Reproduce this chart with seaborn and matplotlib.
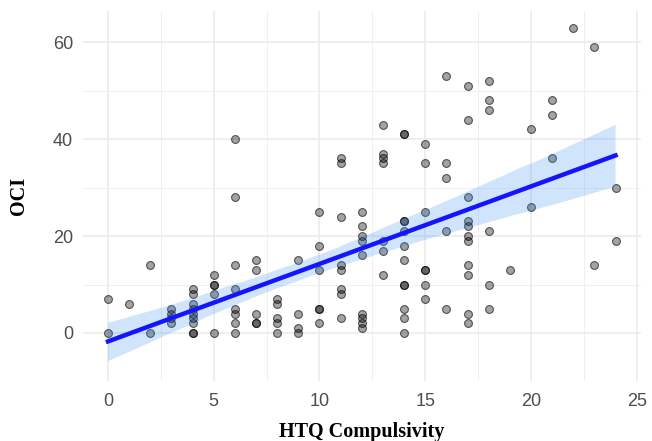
import matplotlib
matplotlib.use("Agg")
import matplotlib.pyplot as plt
import numpy as np
import pandas as pd
import seaborn as sns
from matplotlib.ticker import MultipleLocator

# HTQ Compulsivity score levels and the OCI scores observed at each level
htq_levels = [0, 1, 2, 3, 4, 5, 6, 7, 8, 9, 10, 11, 12,
              13, 14, 15, 16, 17, 18, 19, 20, 21, 22, 23, 24]
oci_at_level = [
    [7, 0],
    [6],
    [14, 0],
    [5, 4, 3, 2],
    [9, 8, 6, 5, 4, 3, 2, 0, 0],
    [12, 10, 10, 8, 0],
    [40, 28, 14, 9, 5, 4, 2, 0],
    [15, 13, 4, 2, 2],
    [7, 6, 3, 2, 0],
    [15, 4, 1, 0],
    [25, 18, 13, 5, 5, 2],
    [36, 35, 24, 14, 13, 9, 8, 3],
    [25, 22, 20, 19, 16, 4, 3, 2, 1],
    [43, 37, 36, 35, 19, 17, 12],
    [41, 41, 23, 23, 21, 18, 15, 10, 10, 5, 3, 0],
    [39, 35, 25, 13, 13, 10, 7],
    [53, 35, 32, 21, 5],
    [51, 44, 28, 23, 22, 20, 19, 14, 12, 4, 2],
    [52, 48, 46, 21, 10, 5],
    [13],
    [42, 26],
    [48, 45, 36],
    [63],
    [59, 14],
    [30, 19],
]
x_ticks = [0, 5, 10, 15, 20, 25]
y_ticks = [0, 20, 40, 60]
x_label = "HTQ Compulsivity"
y_label = "OCI"

htq = [lv for lv, vals in zip(htq_levels, oci_at_level) for _ in vals]
oci = [v for vals in oci_at_level for v in vals]
df = pd.DataFrame({"HTQ": htq, "OCI": oci})

fig = plt.figure(figsize=(6.52, 4.41), dpi=100)
ax = fig.add_axes([0.1267, 0.135, 0.983 - 0.1267, 0.976 - 0.135])

sns.scatterplot(data=df, x="HTQ", y="OCI", ax=ax, s=32,
                facecolor=(0, 0, 0, 0.36), edgecolor=(0, 0, 0, 0.6),
                linewidth=0.8, zorder=2)
sns.regplot(data=df, x="HTQ", y="OCI", ax=ax, scatter=False, ci=95,
            color="#2a8cf0", line_kws=dict(color="#1414ff", lw=3.2, zorder=4))
for coll in ax.collections[1:]:
    coll.set_facecolor("#2a8cf0")
    coll.set_alpha(0.22)
    coll.set_zorder(3)
    coll.set_edgecolor("none")

ax.set_xlim(-1.2, 25.2)
ax.set_ylim(-10, 66.5)
ax.set_xticks(x_ticks)
ax.set_yticks(y_ticks)
ax.xaxis.set_minor_locator(MultipleLocator(2.5))
ax.yaxis.set_minor_locator(MultipleLocator(10))
ax.grid(which="major", color="#EBEBEB", lw=1.2, zorder=0)
ax.grid(which="minor", color="#F0F0F0", lw=0.7, zorder=0)
ax.set_axisbelow(True)
for sp in ax.spines.values():
    sp.set_visible(False)
ax.tick_params(which="both", length=0)
ax.tick_params(axis="x", pad=8, labelsize=13, labelcolor="#4D4D4D")
ax.tick_params(axis="y", pad=7, labelsize=13, labelcolor="#4D4D4D")
for lab in ax.get_xticklabels() + ax.get_yticklabels():
    lab.set_family(["Liberation Sans", "DejaVu Sans"])

ax.set_xlabel(x_label, family=["Liberation Serif", "DejaVu Serif"],
              fontweight="bold", fontsize=14.5, labelpad=9)
ax.set_ylabel(y_label, family=["Liberation Serif", "DejaVu Serif"],
              fontweight="bold", fontsize=14.5, labelpad=17)

fig.savefig("out.png", dpi=100)
